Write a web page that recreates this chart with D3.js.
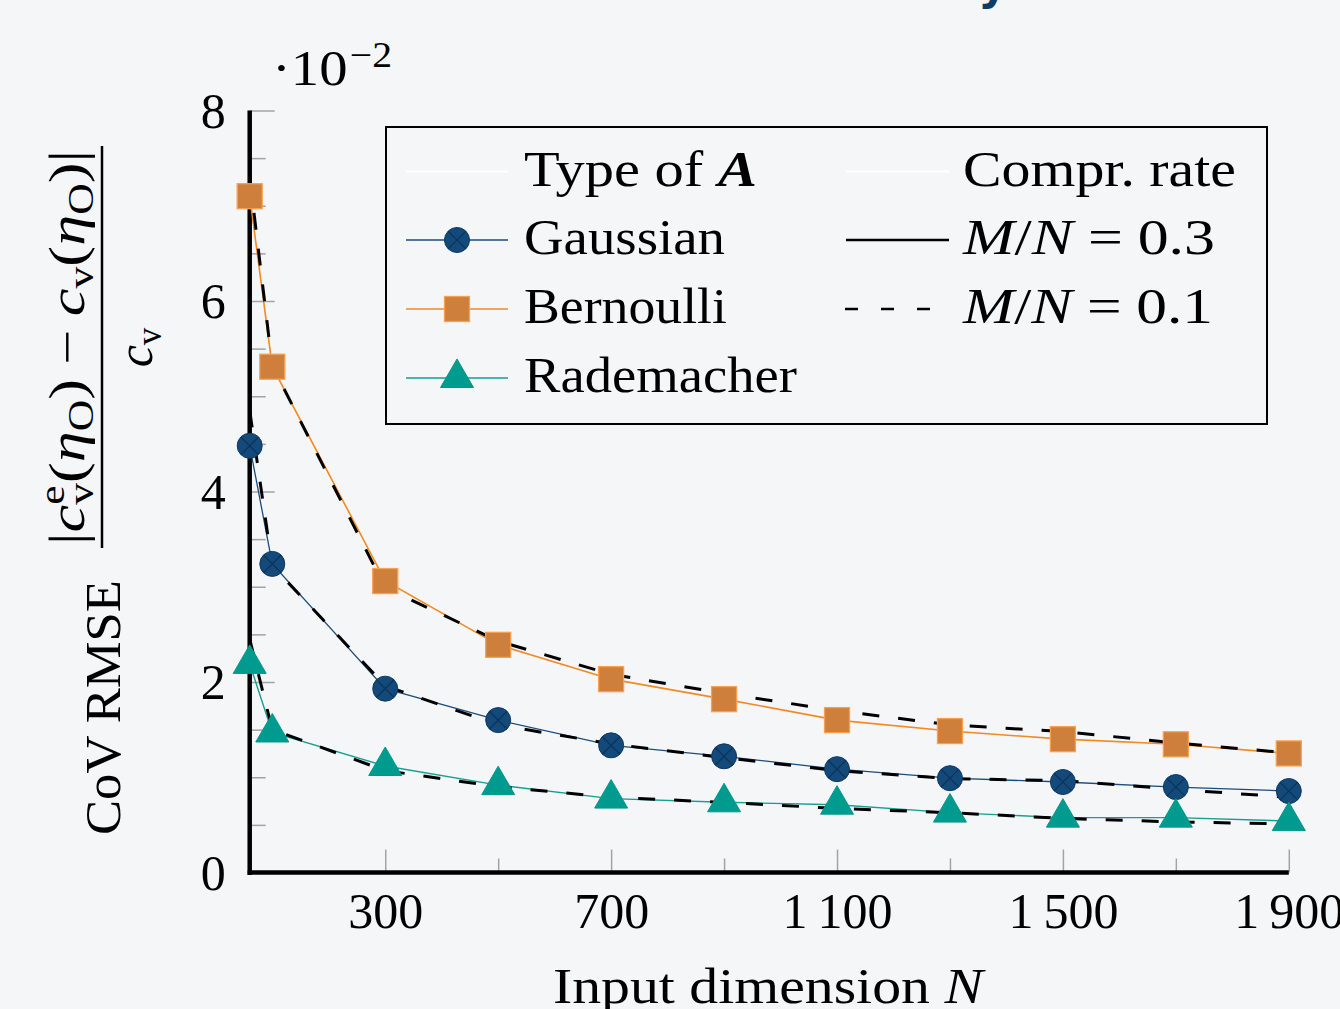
<!DOCTYPE html>
<html>
<head>
<meta charset="utf-8">
<script src="https://cdn.jsdelivr.net/npm/d3@7"></script>
<style>
  body { margin: 0; background: #f5f6f8; }
  svg { display: block; }
  text { font-family: "Liberation Serif", serif; fill: #000; white-space: pre; }
</style>
</head>
<body>
<div class="chart"></div>
<script>
// input dimension N and CoV RMSE values (x 10^-2)
const dims = [60, 100, 300, 500, 700, 900, 1100, 1300, 1500, 1700, 1900];

const gaussian03    = [4.48, 3.24, 1.93, 1.60, 1.335, 1.22, 1.085, 0.99, 0.95, 0.897, 0.855];
const gaussian01    = [4.85, 3.22, 1.96, 1.55, 1.35, 1.205, 1.07, 0.985, 0.965, 0.873, 0.79];
const bernoulli03   = [7.10, 5.31, 3.06, 2.39, 2.03, 1.82, 1.60, 1.485, 1.40, 1.346, 1.25];
const bernoulli01   = [7.30, 5.32, 2.99, 2.43, 2.08, 1.88, 1.70, 1.55, 1.48, 1.36, 1.256];
const rademacher03  = [2.19, 1.47, 1.118, 0.917, 0.776, 0.737, 0.712, 0.629, 0.576, 0.576, 0.54];
const rademacher01  = [2.45, 1.50, 1.07, 0.90, 0.79, 0.736, 0.673, 0.628, 0.568, 0.531, 0.51];

const xMajor = [300, 700, 1100, 1500, 1900];
const xMinor = [500, 900, 1300, 1700];
const xLabels = ["300", "700", "1\u2009100", "1\u2009500", "1\u2009900"];
const yMajor = [0, 2, 4, 6, 8];
const yMinor = [0.5, 1, 1.5, 2.5, 3, 3.5, 4.5, 5, 5.5, 6.5, 7, 7.5];

const typeNames = ["Gaussian", "Bernoulli", "Rademacher"];
const rateNames = ["M/N = 0.3", "M/N = 0.1"];

const colGauss = "#1c4c7c", colBern = "#f28a22", colRade = "#159e92";

const svg = d3.select(".chart")
  .append("svg")
  .attr("width", 1340)
  .attr("height", 1009)
  .style("background-color", "#f5f6f8");

const x = d3.scaleLinear().domain([60, 1900]).range([249.7, 1288.8]);
const y = d3.scaleLinear().domain([0, 8]).range([872.5, 110.5]);

// lays out pieces of text side by side (for italic / sub / sup bits)
function mathText(parent, pieces, x0, y0, width, anchor) {
  const g = parent.append("g").attr("transform", `translate(${x0},${y0})`);
  const inner = g.append("g");
  let cx = 0;
  pieces.forEach(p => {
    cx += p.pre || 0;
    const t = inner.append("text")
      .attr("x", cx)
      .attr("y", p.dy || 0)
      .attr("font-size", p.size || 50)
      .style("font-style", p.it ? "italic" : "normal")
      .style("font-weight", p.b ? "bold" : "normal")
      .text(p.t);
    if (!p.stay) cx += t.node().getComputedTextLength();
    cx += p.post || 0;
  });
  const sx = width ? width / cx : 1;
  const w = cx * sx;
  const shift = anchor === "middle" ? -w / 2 : anchor === "end" ? -w : 0;
  inner.attr("transform", `translate(${shift},0) scale(${sx},1)`);
  return g;
}

// cut-off title above the plot
svg.append("text")
  .attr("x", 1008)
  .attr("y", -1)
  .attr("text-anchor", "end")
  .attr("font-size", 46)
  .style("font-family", "'DejaVu Sans', sans-serif")
  .style("font-weight", "bold")
  .style("fill", "#0f3b6b")
  .text("Accuracy");

// ticks (inward, gray)
const tickCol = "#a3a3a3";
const xAxisMajor = d3.axisBottom(x).tickValues(xMajor).tickSize(-23).tickPadding(20)
  .tickFormat((d, i) => xLabels[i]);
const gx = svg.append("g").attr("transform", "translate(0,872.5)").call(xAxisMajor);
gx.select(".domain").remove();
gx.selectAll("line").attr("stroke", tickCol).attr("stroke-width", 1.5);
gx.selectAll("text").attr("font-size", 50).attr("font-family", null).attr("fill", "#000");

const gxm = svg.append("g").attr("transform", "translate(0,872.5)")
  .call(d3.axisBottom(x).tickValues(xMinor).tickSize(-14).tickFormat(""));
gxm.select(".domain").remove();
gxm.selectAll("line").attr("stroke", tickCol).attr("stroke-width", 1.5);

const yAxisMajor = d3.axisLeft(y).tickValues(yMajor).tickSize(-25).tickPadding(24);
const gy = svg.append("g").attr("transform", "translate(249.7,0)").call(yAxisMajor);
gy.select(".domain").remove();
gy.selectAll("line").attr("stroke", tickCol).attr("stroke-width", 1.5);
gy.selectAll("text").attr("font-size", 50).attr("font-family", null).attr("fill", "#000")
  .attr("dy", "0.33em");

const gym = svg.append("g").attr("transform", "translate(249.7,0)")
  .call(d3.axisLeft(y).tickValues(yMinor).tickSize(-16).tickFormat(""));
gym.select(".domain").remove();
gym.selectAll("line").attr("stroke", tickCol).attr("stroke-width", 1.5);

// axis lines
svg.append("line")
  .attr("x1", x(60)).attr("x2", x(60))
  .attr("y1", y(0) + 2.5).attr("y2", y(8))
  .attr("stroke", "black").attr("stroke-width", 4.5);
svg.append("line")
  .attr("x1", x(60) - 2).attr("x2", x(1900))
  .attr("y1", y(0)).attr("y2", y(0))
  .attr("stroke", "black").attr("stroke-width", 4.5);

// scale factor label
mathText(svg, [
  { t: "\u00b7" },
  { t: "10" },
  { t: "\u22122", size: 35, dy: -18, pre: 2 }
], 272, 85, 120, "start");

// series lines
const line = d3.line().x((d, i) => x(dims[i])).y(d => y(d));

const solids = [
  { data: gaussian03, col: colGauss, w: 1.3 },
  { data: bernoulli03, col: colBern, w: 1.6 },
  { data: rademacher03, col: colRade, w: 1.4 }
];
const dashed = [gaussian01, bernoulli01, rademacher01];

solids.forEach(s => {
  svg.append("path").attr("d", line(s.data))
    .attr("fill", "none").attr("stroke", s.col).attr("stroke-width", s.w);
});
dashed.forEach(d => {
  svg.append("path").attr("d", line(d))
    .attr("fill", "none").attr("stroke", "black").attr("stroke-width", 3)
    .attr("stroke-dasharray", "17,19");
});

// markers
function circleMark(g, cx, cy) {
  g.append("circle").attr("cx", cx).attr("cy", cy).attr("r", 12.5)
    .attr("fill", "#134a7a").attr("stroke", "#0c3864").attr("stroke-width", 1);
  const k = 12.5 * 0.7071;
  g.append("line").attr("x1", cx - k).attr("y1", cy - k).attr("x2", cx + k).attr("y2", cy + k)
    .attr("stroke", "#0b3460").attr("stroke-width", 1.3);
  g.append("line").attr("x1", cx - k).attr("y1", cy + k).attr("x2", cx + k).attr("y2", cy - k)
    .attr("stroke", "#0b3460").attr("stroke-width", 1.3);
}
function squareMark(g, cx, cy) {
  g.append("rect").attr("x", cx - 12.5).attr("y", cy - 12.5).attr("width", 25).attr("height", 25)
    .attr("fill", "#cd7f3b").attr("stroke", "#f7a04f").attr("stroke-width", 1.3);
}
function triMark(g, cx, cy) {
  g.append("path")
    .attr("d", `M${cx},${cy - 19}L${cx + 16.5},${cy + 9.5}L${cx - 16.5},${cy + 9.5}Z`)
    .attr("fill", "#009b8f").attr("stroke", "#00978b").attr("stroke-width", 1);
}

const marks = svg.append("g");
gaussian03.forEach((d, i) => circleMark(marks, x(dims[i]), y(d)));
bernoulli03.forEach((d, i) => squareMark(marks, x(dims[i]), y(d)));
rademacher03.forEach((d, i) => triMark(marks, x(dims[i]), y(d)));

// legend
const lg = svg.append("g");
lg.append("rect").attr("x", 386).attr("y", 127).attr("width", 881).attr("height", 297)
  .attr("fill", "#f5f6f8").attr("stroke", "black").attr("stroke-width", 2);

const rowY = [171.5, 240, 309, 378];
const lx1 = 406, lx2 = 508, rx1 = 846, rx2 = 949;

// header rows
lg.append("line").attr("x1", lx1).attr("x2", lx2).attr("y1", rowY[0]).attr("y2", rowY[0])
  .attr("stroke", "white").attr("stroke-width", 2);
lg.append("line").attr("x1", rx1).attr("x2", rx2).attr("y1", rowY[0]).attr("y2", rowY[0])
  .attr("stroke", "white").attr("stroke-width", 2);
mathText(lg, [{ t: "Type of " }, { t: "A", it: 1, b: 1 }], 524, rowY[0] + 14, 233, "start");
mathText(lg, [{ t: "Compr. rate" }], 963, rowY[0] + 14, 273, "start");

const markFns = [circleMark, squareMark, triMark];
const typeWidths = [201, 203, 273];
solids.forEach((s, i) => {
  const yy = rowY[i + 1];
  lg.append("line").attr("x1", lx1).attr("x2", lx2).attr("y1", yy).attr("y2", yy)
    .attr("stroke", s.col).attr("stroke-width", s.w);
  markFns[i](lg, 457, yy);
  mathText(lg, [{ t: typeNames[i] }], 524, yy + 14, typeWidths[i], "start");
});

const rateWidths = [252, 250];
rateNames.forEach((r, i) => {
  const yy = rowY[i + 1];
  const ln = lg.append("line").attr("x1", rx1).attr("x2", rx2).attr("y1", yy).attr("y2", yy)
    .attr("stroke", "black").attr("stroke-width", 2.5);
  if (i === 1) ln.attr("stroke-dasharray", "13,23").attr("x1", rx1 - 1);
  const parts = r.split(" = ");
  mathText(lg, [
    { t: "M", it: 1 }, { t: "/" }, { t: "N", it: 1 },
    { t: "=", pre: 12, post: 12 }, { t: parts[1] }
  ], 963, yy + 14, rateWidths[i], "start");
});

// x axis title
mathText(svg, [{ t: "Input dimension " }, { t: "N", it: 1 }], 768, 1003, 430, "middle");

// y axis title (rotated)
const yl = svg.append("g").attr("transform", "rotate(-90)");
mathText(yl, [{ t: "CoV RMSE" }], -835, 120, 255, "start");
mathText(yl, [
  { t: "|" },
  { t: "c", it: 1 },
  { t: "e", size: 35, dy: -20, stay: 1 },
  { t: "v", size: 35, dy: 9 },
  { t: "(" }, { t: "\u03b7", it: 1 }, { t: "O", size: 35, dy: 9 }, { t: ")" },
  { t: "\u2212", pre: 11, post: 11 },
  { t: "c", it: 1 }, { t: "v", size: 35, dy: 9 },
  { t: "(" }, { t: "\u03b7", it: 1 }, { t: "O", size: 35, dy: 9 }, { t: ")" },
  { t: "|" }
], -347.5, 84, 395, "middle");
yl.append("line").attr("x1", -548).attr("x2", -146).attr("y1", 102).attr("y2", 102)
  .attr("stroke", "black").attr("stroke-width", 2.5);
mathText(yl, [{ t: "c", it: 1 }, { t: "v", size: 35, dy: 9 }], -347.5, 152, null, "middle");
</script>
</body>
</html>
